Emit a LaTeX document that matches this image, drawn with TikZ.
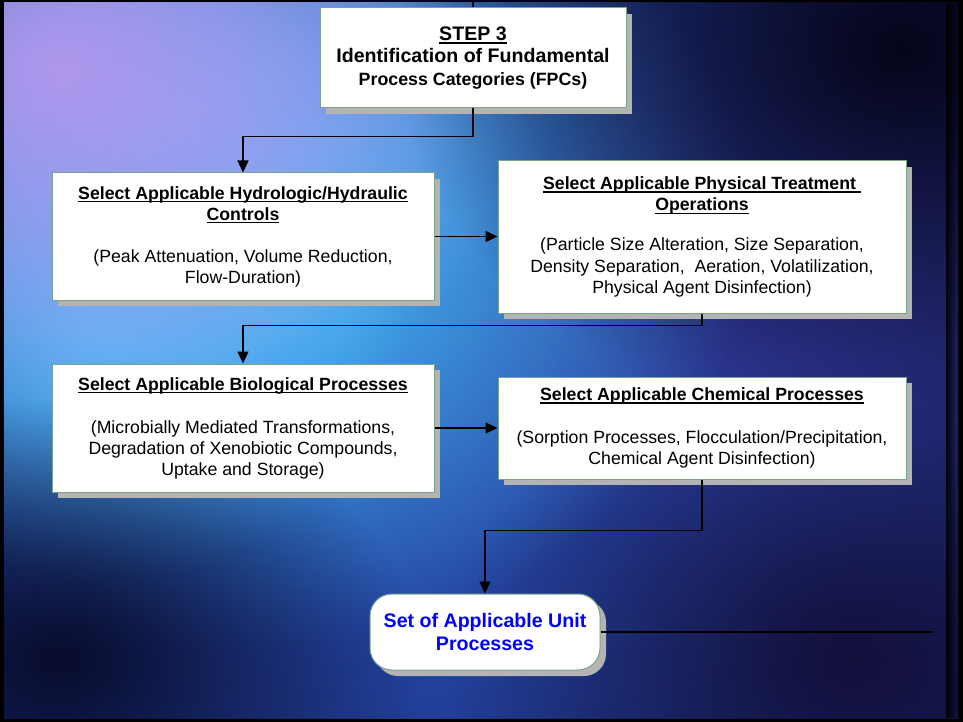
\documentclass[tikz,border=0pt]{standalone}
\usepackage{fontspec}
\setmainfont{Liberation Sans}
\usetikzlibrary{arrows.meta,shadows,fadings}
\definecolor{bgbase}{HTML}{0E1240}
\definecolor{boxline}{HTML}{78A484}
\definecolor{shadowgray}{HTML}{B4B4B4}
\definecolor{blobblue}{HTML}{2C5CD0}
\definecolor{blobcyan}{HTML}{48C4F6}
\definecolor{blobcyanb}{HTML}{5AB8F8}
\definecolor{bloblav}{HTML}{B098EE}
\definecolor{bloblight}{HTML}{78A8F4}
\definecolor{blobmid}{HTML}{3050B8}
\definecolor{blobpurple}{HTML}{3A2A88}
\definecolor{bloblow}{HTML}{2848A8}
\definecolor{blobdark}{HTML}{05051A}
\definecolor{blobdarkb}{HTML}{080C2C}
\definecolor{blobdarkc}{HTML}{120F3A}
\tikzfading[name=blobfade, inner color=transparent!0, outer color=transparent!100]
\newlength\ulw
\newcommand\myul[1]{\settowidth\ulw{#1}\rlap{\rule[-3.2pt]{\ulw}{1.5pt}}\hbox{#1}}
\begin{document}
\begin{tikzpicture}[x=1pt,y=-1pt,
  box/.style={draw=boxline, line width=1pt, fill=white, inner sep=0pt, align=center,
    font=\fontsize{17.7}{21}\selectfont,
    drop shadow={shadow xshift=6pt, shadow yshift=-6pt, fill=shadowgray, opacity=1}},
  finalbox/.style={box, rounded corners=22pt, text=blue,
    font=\fontsize{19.6}{23}\selectfont\bfseries},
  conn/.style={line width=1.4pt, black},
  arr/.style={conn, -{Triangle[length=12pt,width=11pt]}},
  blob/.style={path fading=blobfade}
]
\useasboundingbox (0,0) rectangle (963,722);
% background
\fill[black] (0,0) rectangle (963,722);
\begin{scope}
  \clip (4,3) rectangle (958,718);
  \fill[bgbase] (4,3) rectangle (958,718);
  \fill[blobblue, blob] (330,330) ellipse [x radius=900, y radius=760];
  \fill[blobmid, blob, opacity=.8] (650,190) ellipse [x radius=460, y radius=360];
  \fill[blobpurple, blob, opacity=.6] (800,330) ellipse [x radius=500, y radius=440];
  \fill[bloblow, blob, opacity=.8] (430,580) ellipse [x radius=700, y radius=360];
  \fill[blobcyan, blob] (250,230) ellipse [x radius=500, y radius=420];
  \fill[blobcyanb, blob] (110,320) ellipse [x radius=300, y radius=260];
  \fill[bloblight, blob] (190,120) ellipse [x radius=360, y radius=260];
  \fill[bloblav, blob] (60,70) ellipse [x radius=420, y radius=340];
  \fill[blobdark, blob] (900,50) ellipse [x radius=500, y radius=380];
  \fill[blobdarkb, blob] (60,660) ellipse [x radius=360, y radius=260];
  \fill[blobdarkc, blob] (850,660) ellipse [x radius=400, y radius=300];
  \fill[black, path fading=east, opacity=.9] (946,3) rectangle (958,718);
\end{scope}
% nodes
\node[box, minimum width=306pt, minimum height=100pt, font=\fontsize{19.6}{22.5}\selectfont\bfseries] (step) at (473,58)
  {\myul{STEP 3}\\ Identification of Fundamental\\ {\fontsize{17.8}{22}\selectfont Process Categories (FPCs)}};
\node[box, minimum width=382pt, minimum height=127pt] (hydro) at (243,236.5)
  {\textbf{\myul{Select Applicable Hydrologic/Hydraulic}}\\ \textbf{\myul{Controls}}\\[21pt]
   (Peak Attenuation, Volume Reduction,\\ Flow-Duration)};
\node[box, minimum width=408pt, minimum height=152pt, font=\fontsize{17.7}{21.5}\selectfont] (phys) at (702,237)
  {\textbf{\myul{Select Applicable Physical Treatment\ }}\\ \textbf{\myul{Operations}}\\[18.5pt]
   (Particle Size Alteration, Size Separation,\\ Density Separation,\ \ Aeration, Volatilization,\\ Physical Agent Disinfection)};
\node[box, minimum width=382pt, minimum height=128pt] (bio) at (243,428)
  {\textbf{\myul{Select Applicable Biological Processes}}\\[22pt]
   (Microbially Mediated Transformations,\\ Degradation of Xenobiotic Compounds,\\ Uptake and Storage)};
\node[box, minimum width=408pt, minimum height=102pt] (chem) at (702,428)
  {\textbf{\myul{Select Applicable Chemical Processes}}\\[22pt]
   (Sorption Processes, Flocculation/Precipitation,\\ Chemical Agent Disinfection)};
\node[finalbox, minimum width=230pt, minimum height=76pt] (final) at (485,632)
  {Set of Applicable Unit\\ Processes};
% connectors
\coordinate (topin) at (473,0);
\coordinate (outend) at (933,632);
\draw[conn] (topin) -- (step.north);
\draw[arr] (step.south) -- ++(0,28) -| (hydro.north);
\draw[arr] (hydro.east) -- (phys.west |- hydro.east);
\draw[arr] (phys.south) -- ++(0,12) -| (bio.north);
\draw[arr] (bio.east) -- (chem.west |- bio.east);
\draw[arr] (chem.south) -- ++(0,51) -| (final.north);
\draw[conn] (final.east) -- (outend);
\end{tikzpicture}
\end{document}
